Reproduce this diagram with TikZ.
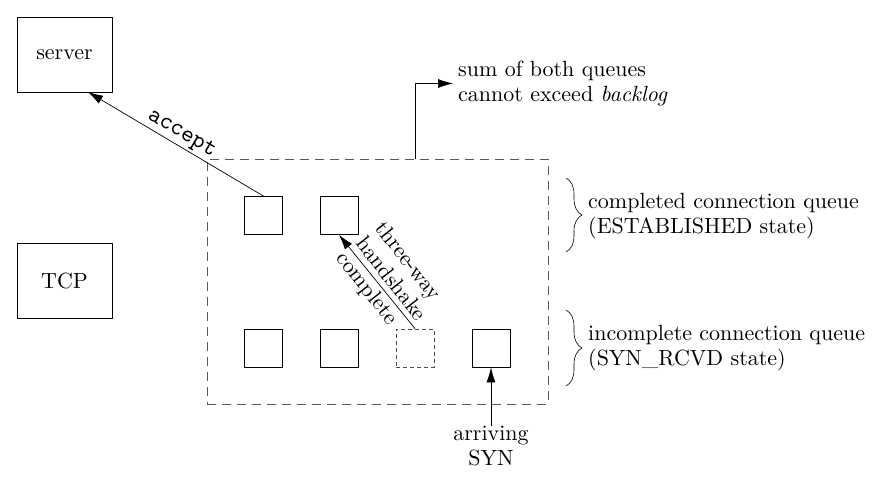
\documentclass[tikz,border=0pt]{standalone}
\usepackage{fontspec}
\setmainfont{lmroman10-regular.otf}[ItalicFont=lmroman10-italic.otf]
\setmonofont{lmmono10-regular.otf}
\usetikzlibrary{arrows.meta,decorations.pathreplacing}
\begin{document}
\begin{tikzpicture}[x=1pt,y=-1pt,
  font=\fontsize{22}{24.5}\selectfont,
  big/.style={draw,line width=0.8pt,minimum width=95pt,minimum height=75pt,inner sep=0pt},
  qbox/.style={draw,line width=0.8pt,minimum width=38pt,minimum height=38pt,inner sep=0pt},
  qdash/.style={qbox,draw=black!70,dash pattern=on 4pt off 3pt},
  outer/.style={draw=black!65,line width=0.8pt,dash pattern=on 9pt off 6pt,inner sep=0pt},
  arr/.style={line width=0.7pt,-{Latex[length=15pt,width=9pt]}},
  brc/.style={decorate,decoration={brace,amplitude=16pt},line width=0.6pt},
  lbl/.style={align=left,inner sep=0pt},
  hsl/.style={anchor=base west,rotate=-52,inner sep=0pt}]
\useasboundingbox (0,0) rectangle (875,479);
% outer boxes
\node[big] (server) at (64.5,54.5) {server};
\node[big] (tcp) at (64.5,281) {TCP};
% queue region
\node[outer,minimum width=341pt,minimum height=245pt] (q) at (377.5,281.5) {};
% completed queue
\node[qbox] (c1) at (263.5,215.5) {};
\node[qbox] (c2) at (339,215.5) {};
% incomplete queue
\node[qbox] (i1) at (263.5,348) {};
\node[qbox] (i2) at (339,348) {};
\node[qdash] (i3) at (415,348) {};
\node[qbox] (i4) at (491,348) {};
% accept
\coordinate (srvin) at (88,92);
\draw[arr] (c1.north) -- (srvin);
\node[rotate=-30.7,font=\fontsize{24}{26}\selectfont\ttfamily,inner sep=0pt] (acc) at (181.5,134) {accept};
% three-way handshake
\draw[arr] (i3.north) -- (c2.south);
\node[hsl] (hs1) at (374.2,228.2) {three-way};
\node[hsl] (hs2) at (354.9,243.3) {handshake};
\node[hsl] (hs3) at (335.6,258.4) {complete};
% backlog
\coordinate (bl) at (415,159);
\node[lbl,anchor=west,inner xsep=5pt] (sum) at (453,83.5) {sum of both queues\\cannot exceed \textit{backlog}};
\draw[arr] (bl) |- (sum.west);
% braces
\draw[brc] (566,178) -- (566,252);
\node[lbl,anchor=west] (cq) at (588,216) {completed connection queue\\(ESTABLISHED state)};
\draw[brc] (566,310) -- (566,386);
\node[lbl,anchor=west] (iq) at (588,348) {incomplete connection queue\\(SYN\_RCVD state)};
% arriving SYN
\node[align=center,anchor=north,inner sep=0pt] (syn) at (491,426) {arriving\\SYN};
\draw[arr] (syn.north) -- (i4.south);
\end{tikzpicture}
\end{document}
